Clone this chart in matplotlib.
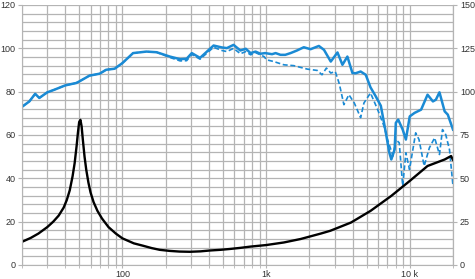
import numpy as np
import matplotlib
matplotlib.use("Agg")
import matplotlib.pyplot as plt
from matplotlib.ticker import FixedLocator, NullFormatter, MultipleLocator

plt.rcParams['font.family'] = ['Liberation Sans', 'DejaVu Sans']

# on-axis SPL (solid blue)
spl_f = [20, 22.5, 24.7, 26.4, 30, 33.6, 40, 47.7, 50, 59, 69.4, 77, 88.3, 100, 118.6,
         147, 173, 214, 252, 280, 304, 347, 431, 493, 533, 594, 662, 722, 780, 845,
         913, 985, 1100, 1165, 1260, 1360, 1480, 1640, 1830, 2040, 2330, 2530, 2820,
         3140, 3400, 3680, 3990, 4200, 4550, 4940, 5330, 5780, 6290, 6820, 7200, 7440,
         7850, 8000, 8310, 8930, 9400, 10000, 10800, 12000, 13300, 14500, 15200, 16100,
         17500, 18400, 20000]
spl_db = [73, 75.5, 79, 77.1, 79.7, 80.9, 82.9, 84, 84.7, 87.4, 88.3, 90.1, 90.6, 93.2, 97.8,
          98.5, 98.2, 96.2, 95, 95.2, 97.8, 95.6, 101.3, 100.4, 100.1, 101.6, 99, 99.8, 97.8, 98.5,
          97.5, 97.8, 97.3, 97.8, 97, 97, 97.8, 99, 100.5, 99.6, 101.1, 99.3, 93.9,
          98.1, 92.4, 96.2, 88.6, 88.5, 89.3, 87.8, 82, 78, 73.5, 61, 52, 48.7,
          53.3, 65.6, 67.1, 62.5, 57.9, 68.6, 70.2, 71.7, 78.6, 75.5, 76.3, 79.7,
          70.9, 69.4, 62.5]

# off-axis SPL (dashed blue)
off_f = [20, 22.5, 24.7, 26.4, 30, 33.6, 40, 47.7, 50, 59, 69.4, 77, 88.3, 100, 118.6,
         147, 173, 214, 252, 280, 304, 347, 431, 493, 533, 594, 662, 722, 780, 845,
         913, 967, 1010, 1130, 1330, 1560, 1940, 2270, 2450, 2630, 2820, 3030, 3220,
         3300, 3480, 3770, 4110, 4550, 4800, 5330, 5980, 6630, 7000, 7650, 8000, 8450,
         8930, 9400, 9960, 11000, 11600, 12600, 13700, 14900, 16100, 16900, 17800,
         18900, 20000]
off_db = [73, 75.5, 79, 77.1, 79.7, 80.9, 82.9, 84, 84.7, 87.4, 88.3, 90.1, 90.6, 93.2, 97.8,
          98.5, 98.2, 95.8, 94.2, 94.3, 97.2, 95, 100.5, 99, 98.5, 100, 97.5, 98.5, 97, 98,
          97, 96.2, 94.7, 93.9, 92.4, 92, 90.4, 89.8, 87.8, 90.9, 88.6, 89.3, 84,
          81, 74, 78.6, 74.8, 68, 74.8, 79.4, 71.7, 64, 57.9, 50.3, 57.9, 56.4,
          36.5, 51.8, 44.1, 61, 57.9, 45.7, 54.1, 58.7, 51, 62.5, 60.2,
          53.3, 36.5]

# impedance (black)
imp_f = [20, 23, 26, 30, 33, 36, 39, 41, 43, 45, 46.5, 48, 49, 50, 51, 52, 53, 54.5, 56,
         58, 60, 63, 67, 72, 80, 90, 100, 120, 139, 160, 182, 214, 250, 295, 350, 407,
         480, 560, 660, 780, 1000, 1330, 1740, 2400, 2800, 3900, 5340, 7440, 10000,
         13300, 17500, 19400, 20000]
imp_val = [10.7, 12.5, 14.5, 17.5, 20, 22.8, 26.5, 30, 34.5, 41, 47, 55, 61, 66, 67, 64, 58,
           50, 44, 38, 33.5, 29, 25, 21.5, 17.5, 14.5, 12.3, 10, 8.9, 7.8, 7, 6.5, 6.2, 6.1,
           6.3, 6.7, 7, 7.4, 7.9, 8.5, 9.2, 10.4, 12, 14.5, 15.8, 19.6, 25, 31.9, 38.8,
           45.7, 48.7, 50.3, 48.5]

blue = '#1a8ad4'
gridc = '#b4b4b4'
txt = '#333333'

fig = plt.figure(figsize=(4.75, 2.79), dpi=100)
ax = fig.add_axes([22 / 475, 14 / 279, 431 / 475, 260 / 279])

ax.plot(off_f, off_db, color=blue, lw=1.2, ls=(0, (3, 1.6)))
ax.plot(spl_f, spl_db, color=blue, lw=1.8)
ax.plot(imp_f, imp_val, color='black', lw=1.7)

ax.set_xscale('log')
ax.set_xlim(20, 20000)
ax.set_ylim(0, 120)

ax.xaxis.set_major_locator(FixedLocator([100, 1000, 10000]))
ax.set_xticklabels(['100', '1k', '10 k'])
minors = [m * 10 ** d for d in range(1, 5) for m in range(2, 10) if 20 <= m * 10 ** d <= 20000]
ax.xaxis.set_minor_locator(FixedLocator(minors))
ax.xaxis.set_minor_formatter(NullFormatter())
ax.yaxis.set_major_locator(MultipleLocator(20))
ax.yaxis.set_minor_locator(MultipleLocator(4))

ax.grid(True, which='both', color=gridc, lw=0.9)
ax.set_axisbelow(True)
ax.tick_params(which='both', length=3, color=gridc, labelsize=6.5, labelcolor=txt, pad=1.5)
ax.tick_params(axis='x', which='both', length=2.5, pad=1)
ax.tick_params(axis='y', which='minor', length=0)
for s in ax.spines.values():
    s.set_color(gridc)
ax.spines['top'].set_visible(False)

ax2 = ax.twinx()
ax2.set_ylim(0, 150)
ax2.yaxis.set_major_locator(MultipleLocator(25))
ax2.tick_params(length=3, color=gridc, labelsize=6.5, labelcolor=txt, pad=2)
for s in ax2.spines.values():
    s.set_visible(False)
ax2.spines['right'].set_visible(True)
ax2.spines['right'].set_color(gridc)

fig.savefig('out.png', dpi=100)
